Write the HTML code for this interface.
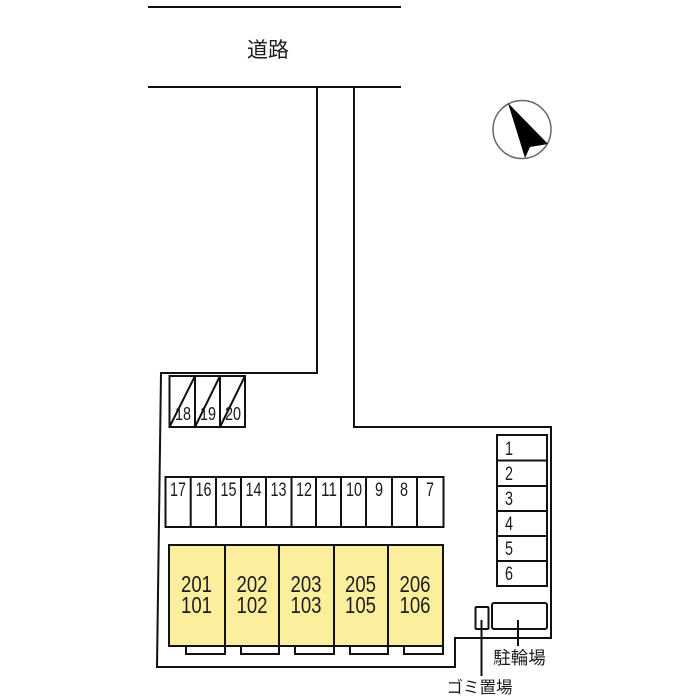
<!DOCTYPE html>
<html>
<head>
<meta charset="utf-8">
<style>
html,body{margin:0;padding:0;background:#fff;width:700px;height:700px;overflow:hidden}
svg{display:block}
text{font-family:"Liberation Sans","Noto Sans CJK JP",sans-serif;fill:#1c1c1c}
.n{font-size:19px;text-anchor:middle}
.s{font-size:18px;text-anchor:middle}
.u{font-size:23px;text-anchor:middle}
</style>
</head>
<body>
<svg width="700" height="700" viewBox="0 0 700 700" xmlns="http://www.w3.org/2000/svg">
<g fill="none" stroke="#111" stroke-width="2">
<path d="M148 7H401M148 87H401"/>
<path d="M317 87V373H161L157 667H455V638H551V427H354V87"/>

<rect x="169" y="545" width="274" height="101" fill="#fbef9e"/>
<path d="M225 545V646M279 545V646M334 545V646M388 545V646"/>
<path d="M186 646V654H225V646M241 646V654H279V646M295 646V654H334V646M350 646V654H388V646M404 646V654H443V646"/>

<rect x="169.500" y="376" width="75.500" height="51"/>
<path d="M195 376V427M220 376V427M169.500 427L195 376M195 427L220 376M220 427L245 376"/>

<rect x="165.500" y="477" width="278" height="50"/>
<path d="M190.700 477V527M216 477V527M241 477V527M266 477V527M291.500 477V527M316 477V527M341 477V527M366 477V527M392 477V527M417 477V527"/>

<rect x="497" y="435" width="50" height="151"/>
<path d="M497 460.500H547M497 486H547M497 511H547M497 536H547M497 561H547"/>

<rect x="492" y="603" width="55" height="26" rx="2"/>
<rect x="475.500" y="607" width="13" height="22" rx="1"/>
<path d="M481.500 620V676M518 620V646"/>
</g>

<text x="268" y="57" font-size="21" text-anchor="middle">道路</text>

<circle cx="522" cy="129.500" r="29" fill="#fff" stroke="#666" stroke-width="1.500"/>
<polygon points="508,103 548,144 530,147 525,158" fill="#000"/>

<text class="s" x="183" y="420" textLength="16" lengthAdjust="spacingAndGlyphs">18</text>
<text class="s" x="208" y="420" textLength="16" lengthAdjust="spacingAndGlyphs">19</text>
<text class="s" x="233" y="420" textLength="16" lengthAdjust="spacingAndGlyphs">20</text>

<text class="n" x="178" y="496" textLength="16" lengthAdjust="spacingAndGlyphs">17</text>
<text class="n" x="203.500" y="496" textLength="16" lengthAdjust="spacingAndGlyphs">16</text>
<text class="n" x="228.500" y="496" textLength="16" lengthAdjust="spacingAndGlyphs">15</text>
<text class="n" x="253.500" y="496" textLength="16" lengthAdjust="spacingAndGlyphs">14</text>
<text class="n" x="278.500" y="496" textLength="16" lengthAdjust="spacingAndGlyphs">13</text>
<text class="n" x="304" y="496" textLength="16" lengthAdjust="spacingAndGlyphs">12</text>
<text class="n" x="329" y="496" textLength="16" lengthAdjust="spacingAndGlyphs">11</text>
<text class="n" x="354" y="496" textLength="16" lengthAdjust="spacingAndGlyphs">10</text>
<text class="n" x="379" y="496" textLength="8" lengthAdjust="spacingAndGlyphs">9</text>
<text class="n" x="404" y="496" textLength="8" lengthAdjust="spacingAndGlyphs">8</text>
<text class="n" x="430" y="496" textLength="8" lengthAdjust="spacingAndGlyphs">7</text>

<text class="n" x="509" y="455" textLength="8" lengthAdjust="spacingAndGlyphs">1</text>
<text class="n" x="509" y="480" textLength="8" lengthAdjust="spacingAndGlyphs">2</text>
<text class="n" x="509" y="505" textLength="8" lengthAdjust="spacingAndGlyphs">3</text>
<text class="n" x="509" y="530" textLength="8" lengthAdjust="spacingAndGlyphs">4</text>
<text class="n" x="509" y="555" textLength="8" lengthAdjust="spacingAndGlyphs">5</text>
<text class="n" x="509" y="580" textLength="8" lengthAdjust="spacingAndGlyphs">6</text>

<text class="u" x="196.500" y="592" textLength="31" lengthAdjust="spacingAndGlyphs">201</text>
<text class="u" x="196.500" y="613" textLength="31" lengthAdjust="spacingAndGlyphs">101</text>
<text class="u" x="252" y="592" textLength="31" lengthAdjust="spacingAndGlyphs">202</text>
<text class="u" x="252" y="613" textLength="31" lengthAdjust="spacingAndGlyphs">102</text>
<text class="u" x="306" y="592" textLength="31" lengthAdjust="spacingAndGlyphs">203</text>
<text class="u" x="306" y="613" textLength="31" lengthAdjust="spacingAndGlyphs">103</text>
<text class="u" x="360.500" y="592" textLength="31" lengthAdjust="spacingAndGlyphs">205</text>
<text class="u" x="360.500" y="613" textLength="31" lengthAdjust="spacingAndGlyphs">105</text>
<text class="u" x="415" y="592" textLength="31" lengthAdjust="spacingAndGlyphs">206</text>
<text class="u" x="415" y="613" textLength="31" lengthAdjust="spacingAndGlyphs">106</text>

<text x="519.500" y="664" font-size="17.500" text-anchor="middle">駐輪場</text>
<text x="479.500" y="693" font-size="16.500" text-anchor="middle">ゴミ置場</text>
</svg>
</body>
</html>
